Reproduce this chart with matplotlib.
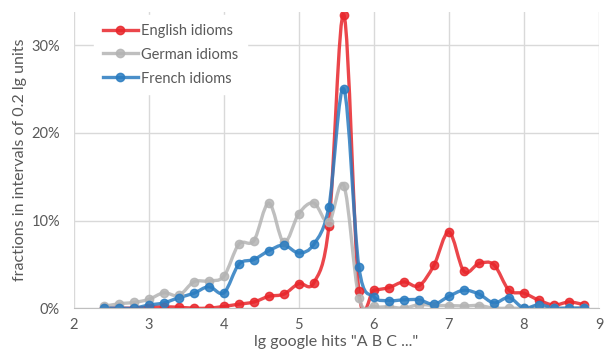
import matplotlib
matplotlib.use("Agg")
import matplotlib.pyplot as plt
import numpy as np
from matplotlib.path import Path
from matplotlib.patches import PathPatch
from matplotlib.ticker import PercentFormatter

# bin centres, lg units (step 0.2)
lg_hits = [2.4, 2.6, 2.8, 3.0, 3.2, 3.4, 3.6, 3.8, 4.0, 4.2, 4.4, 4.6, 4.8, 5.0, 5.2, 5.4, 5.6,
           5.8, 6.0, 6.2, 6.4, 6.6, 6.8, 7.0, 7.2, 7.4, 7.6, 7.8, 8.0, 8.2, 8.4, 8.6, 8.8]

# fractions in %
english = [0.0, 0.0, 0.0, 0.1, 0.15, 0.1, 0.0, 0.0, 0.2, 0.45, 0.7, 1.35, 1.6, 2.8, 2.9, 9.4, 33.5,
           1.9, 2.05, 2.35, 3.0, 2.55, 4.9, 8.7, 4.2, 5.1, 4.95, 2.05, 1.7, 0.9, 0.35, 0.7, 0.4]
german = [0.2, 0.5, 0.65, 1.0, 1.75, 1.45, 3.0, 3.1, 3.65, 7.3, 7.7, 12.0, 7.5, 10.8, 12.0, 9.8, 14.0,
          1.2, 0.2, 0.15, 0.0, 0.4, 0.3, 0.3, 0.25, 0.3, 0.0, 0.0, 0.0, 0.2, 0.0, 0.0, 0.0]
french = [0.0, 0.0, 0.0, 0.35, 0.6, 1.2, 1.7, 2.45, 1.75, 5.0, 5.55, 6.55, 7.2, 6.3, 7.3, 11.6, 25.0,
          4.7, 1.3, 0.85, 0.95, 0.95, 0.45, 1.35, 2.05, 1.6, 0.6, 1.2, 0.0, 0.4, 0.0, 0.0, 0.0]

series_names = ["English idioms", "German idioms", "French idioms"]
series_colors = ["#e8262b", "#b4b4b4", "#2a7cc0"]

text_col = "#595959"
grid_col = "#d9d9d9"

plt.rcParams["font.family"] = ["Lato", "DejaVu Sans"]


def smooth_path(x, y):
    # excel-like smoothed line: cubic bezier through every point
    p = np.column_stack([x, y])
    n = len(p)
    verts = [p[0]]
    codes = [Path.MOVETO]
    for i in range(n - 1):
        p0 = p[i - 1] if i > 0 else p[i]
        p3 = p[i + 2] if i + 2 < n else p[i + 1]
        c1 = p[i] + (p[i + 1] - p0) / 6.0
        c2 = p[i + 1] - (p3 - p[i]) / 6.0
        verts += [c1, c2, p[i + 1]]
        codes += [Path.CURVE4] * 3
    return Path(verts, codes)


fig = plt.figure(figsize=(6.15, 3.55), dpi=100)
ax = fig.add_axes([0.120, 0.132, 0.854, 0.834])

x = np.asarray(lg_hits)
for name, vals, col in zip(series_names, [english, german, french], series_colors):
    y = np.asarray(vals) / 100.0
    ax.add_patch(PathPatch(smooth_path(x, y), fill=False, edgecolor=col, lw=2.4,
                           alpha=0.85, capstyle="round", joinstyle="round"))
    ax.plot(x, y, ls="none", marker="o", ms=6, color=col, alpha=0.85, label=name)

ax.set_xlim(2, 9)
ax.set_ylim(0, 0.338)
ax.set_xticks(range(2, 10))
ax.set_yticks([0, 0.1, 0.2, 0.3])
ax.yaxis.set_major_formatter(PercentFormatter(1.0, decimals=0))

ax.grid(True, color=grid_col, lw=1.0)
ax.set_axisbelow(True)
for s in ["top", "right", "left"]:
    ax.spines[s].set_visible(False)
ax.spines["bottom"].set_color("#bfbfbf")
ax.tick_params(axis="both", length=0, labelsize=10.5, labelcolor=text_col)
ax.tick_params(axis="y", pad=10)
ax.tick_params(axis="x", pad=7)

ax.set_xlabel('lg google hits "A B C ..."', fontsize=11.5, color=text_col, labelpad=2)
ax.set_ylabel("fractions in intervals of 0.2 lg units", fontsize=11.5, color=text_col, labelpad=3)

# legend handles as line+marker
handles = [plt.Line2D([], [], color=c, lw=2.4, marker="o", ms=6, alpha=0.85) for c in series_colors]
leg = ax.legend(handles, series_names, loc="upper left", bbox_to_anchor=(0.025, 1.015),
                fontsize=10.5, frameon=True, framealpha=1.0, edgecolor="white",
                handlelength=2.4, handletextpad=0.2, labelspacing=0.68, borderpad=0.6)
for t in leg.get_texts():
    t.set_color(text_col)

fig.savefig("out.png", dpi=100)
